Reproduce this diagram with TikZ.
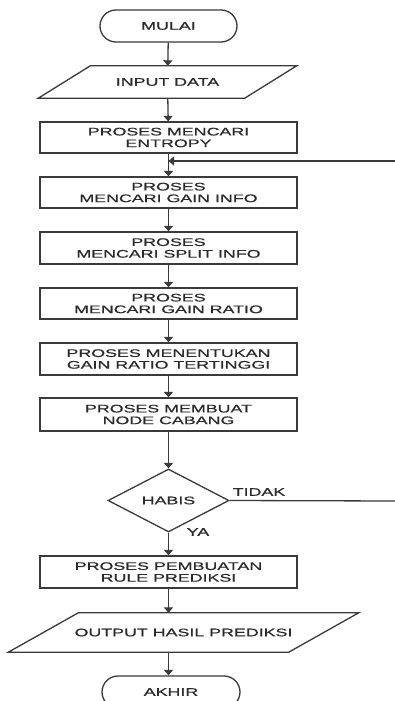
\documentclass[tikz,border=0pt]{standalone}
\usepackage{fontspec}
\setmainfont[FakeStretch=1.62,FakeBold=0.6]{Liberation Sans}
\usetikzlibrary{arrows.meta,shapes.geometric,shapes.misc,calc}
\definecolor{ln}{HTML}{3A3A3A}
\definecolor{tx}{HTML}{2A2A2A}
\begin{document}
\begin{tikzpicture}[x=1pt,y=-1pt,
  base/.style={text=tx, align=center, inner sep=0pt, font=\fontsize{11}{11.7}\selectfont},
  pbox/.style={base, draw=ln, line width=1.3pt, rectangle, minimum width=257pt, minimum height=31pt},
  term/.style={base, draw=ln, line width=1.3pt, rounded rectangle, minimum width=137pt, minimum height=32pt},
  iobox/.style={base, rectangle, minimum height=32pt},
  dec/.style={base, draw=ln, line width=1.3pt, diamond, aspect=1.92, minimum width=121pt, minimum height=63pt},
  arr/.style={draw=ln, line width=1.3pt, -{Triangle[length=5.5pt,width=9pt]}},
  con/.style={draw=ln, line width=1.3pt},
  lbl/.style={base}
]
\clip (0,0) rectangle (395,701);
\fill[white] (0,0) rectangle (395,701);

\node[term] (start) at (168.5,26) {MULAI};
\node[iobox, minimum width=206pt] (in) at (167.5,82) {INPUT DATA};
\draw[con] ($(in.north west)+(26,0)$) -- ($(in.north east)+(26,0)$) -- ($(in.south east)+(-26,0)$) -- ($(in.south west)+(-26,0)$) -- cycle;
\node[pbox] (ent) at (168.5,137.5) {PROSES MENCARI\\ENTROPY};
\node[pbox] (gi) at (168.5,192.5) {PROSES\\MENCARI GAIN INFO};
\node[pbox, minimum height=32pt] (si) at (168.5,248) {PROSES\\MENCARI SPLIT INFO};
\node[pbox] (gr) at (168.5,303.5) {PROSES\\MENCARI GAIN RATIO};
\node[pbox, minimum height=32pt] (gt) at (168.5,359) {PROSES MENENTUKAN\\GAIN RATIO TERTINGGI};
\node[pbox, minimum height=33pt] (nc) at (168.5,414.5) {PROSES MEMBUAT\\NODE CABANG};
\node[dec] (hb) at (168.5,500.5) {HABIS};
\node[pbox, minimum height=32pt] (rp) at (168.5,572) {PROSES PEMBUATAN\\RULE PREDIKSI};
\node[iobox, minimum width=280pt, minimum height=39pt] (out) at (183.5,632.5) {OUTPUT HASIL PREDIKSI};
\draw[con] ($(out.north west)+(35,0)$) -- ($(out.north east)+(35,0)$) -- ($(out.south east)+(-35,0)$) -- ($(out.south west)+(-35,0)$) -- cycle;
\node[term, minimum width=138pt] (end) at (171,692) {AKHIR};

\coordinate (fb) at (396,161);
\coordinate (tk) at (396,501);

\draw[arr] (start) -- (in);
\draw[arr] (in) -- (ent);
\draw[arr] (ent) -- (gi);
\draw[arr] (fb) -- (fb -| ent.south);
\draw[arr] (gi) -- (si);
\draw[arr] (si) -- (gr);
\draw[arr] (gr) -- (gt);
\draw[arr] (gt) -- (nc);
\draw[arr] (nc) -- (hb);
\draw[arr] (hb) -- (rp);
\draw[con] (hb.east) -- (tk);
\draw[arr] (rp.south) -- (out.north -| rp.south);
\draw[arr] (out.south -| rp.south) -- (end.north -| rp.south);

\node[lbl] (ltidak) at (259,492) {TIDAK};
\node[lbl] (lya) at (198,532) {YA};
\end{tikzpicture}
\end{document}
